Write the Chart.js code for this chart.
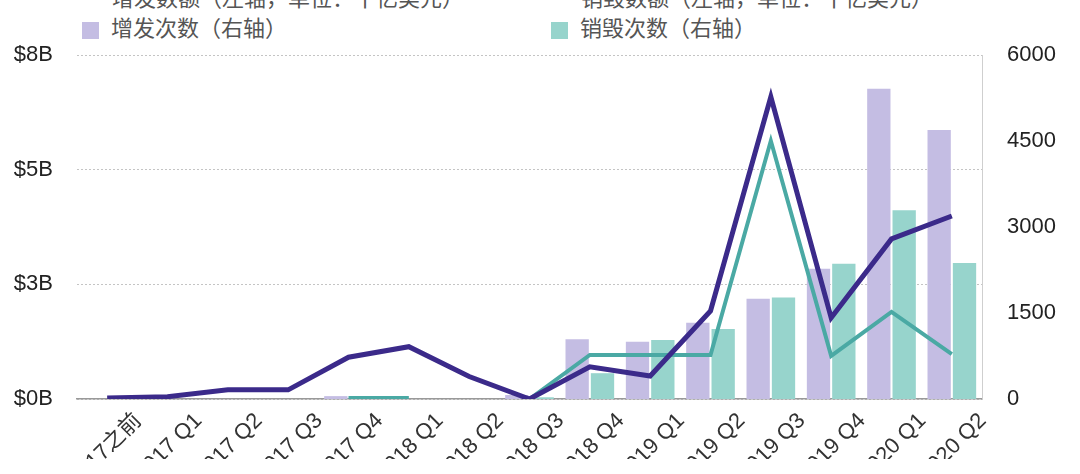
<!DOCTYPE html>
<html>
<head>
<meta charset="utf-8">
<script src="https://cdn.jsdelivr.net/npm/chart.js@4"></script>
<style>
  html, body { margin: 0; padding: 0; background: #fff; overflow: hidden; }
  body { width: 1080px; height: 474px; position: relative; }
  #wrap { position: absolute; left: 0; top: 0; width: 1080px; height: 520px; }
  #legend { position: absolute; left: 0; top: 0; width: 1080px; height: 60px; }
  .legend-item {
    position: absolute; height: 30px; line-height: 30px; white-space: nowrap;
    font: 22px "Noto Sans CJK SC", sans-serif; color: #555;
  }
  .legend-item i { display: inline-block; vertical-align: middle; margin-right: 12px; position: relative; }
</style>
</head>
<body>
<div id="legend"></div>
<div id="wrap"><canvas id="chart"></canvas></div>
<script>
const quarters = [
  "2017之前", "2017 Q1", "2017 Q2", "2017 Q3", "2017 Q4",
  "2018 Q1", "2018 Q2", "2018 Q3", "2018 Q4",
  "2019 Q1", "2019 Q2", "2019 Q3", "2019 Q4",
  "2020 Q1", "2020 Q2",
];

// amounts in billions of USD (left axis)
const issueAmount = [0.02, 0.05, 0.2, 0.2, 0.91, 1.14, 0.49, 0, 0.7, 0.5, 1.92, 6.59, 1.77, 3.49, 3.99];
const burnAmount = [null, null, null, null, 0.02, 0.02, null, 0, 0.96, 0.96, 0.96, 5.63, 0.94, 1.9, 0.98];

// number of events (right axis)
const issueCount = [0, 0, 0, 0, 50, 0, 0, 70, 1040, 1000, 1330, 1750, 2270, 5410, 4690];
const burnCount = [0, 0, 0, 0, 50, 0, 0, 30, 450, 1030, 1220, 1770, 2360, 3290, 2370];

const leftTicks = { min: 0, max: 7.5, step: 2.5 };
const rightTicks = { min: 0, max: 6000, step: 1500 };

const tickFont = { family: '"Liberation Sans", "Noto Sans CJK SC", sans-serif', size: 22 };

const chart = new Chart(document.getElementById("chart").getContext("2d"), {
  data: {
    labels: quarters,
    datasets: [
      {
        type: "line",
        label: "增发数额（左轴，单位：十亿美元）",
        data: issueAmount,
        yAxisID: "y",
        borderColor: "#3b2a8a",
        borderWidth: 5,
        tension: 0,
        pointRadius: 0,
        spanGaps: false,
        order: 0,
      },
      {
        type: "line",
        label: "销毁数额（左轴，单位：十亿美元）",
        data: burnAmount,
        yAxisID: "y",
        borderColor: "#4aa9a4",
        borderWidth: 4,
        tension: 0,
        pointRadius: 0,
        spanGaps: false,
        order: 1,
      },
      {
        type: "bar",
        label: "增发次数（右轴）",
        data: issueCount,
        yAxisID: "y1",
        backgroundColor: "#c4bde3",
        categoryPercentage: 0.84,
        barPercentage: 0.92,
        order: 2,
      },
      {
        type: "bar",
        label: "销毁次数（右轴）",
        data: burnCount,
        yAxisID: "y1",
        backgroundColor: "#97d4cc",
        categoryPercentage: 0.84,
        barPercentage: 0.92,
        order: 3,
      },
    ],
  },
  options: {
    responsive: true,
    maintainAspectRatio: false,
    animation: false,
    layout: { padding: { top: 55, bottom: 61, left: 0, right: 0 } },
    plugins: { legend: { display: false }, tooltip: { enabled: false } },
    scales: {
      x: {
        grid: { display: false, drawTicks: false },
        border: { display: true, color: "#999", width: 1.5 },
        ticks: {
          autoSkip: false,
          maxRotation: 45,
          minRotation: 45,
          labelOffset: 31,
          padding: 9,
          color: "#333",
          font: tickFont,
        },
        afterFit: (s) => { s.height = 60; },
      },
      y: {
        position: "left",
        min: leftTicks.min,
        max: leftTicks.max,
        grid: { color: "#c4c4c4", drawTicks: false },
        border: { display: false, dash: [2, 2] },
        ticks: {
          stepSize: leftTicks.step,
          padding: 24,
          color: "#222",
          font: tickFont,
          callback: (v) => "$" + Math.round(v) + "B",
        },
        afterFit: (s) => { s.width = 77; },
      },
      y1: {
        position: "right",
        min: rightTicks.min,
        max: rightTicks.max,
        grid: { display: false, drawTicks: false },
        border: { display: true, color: "#cfcfcf", width: 1 },
        ticks: {
          stepSize: rightTicks.step,
          padding: 25,
          color: "#222",
          font: tickFont,
          callback: (v) => String(v),
        },
        afterFit: (s) => { s.width = 98; },
      },
    },
  },
});

// two-column legend, line series on the first row, bars on the second
const legendCols = [82, 551];
const legendRows = [-20, 10];
const legendBox = document.getElementById("legend");
chart.data.datasets.forEach((ds, i) => {
  const item = document.createElement("div");
  item.className = "legend-item";
  item.style.left = legendCols[i % 2] + "px";
  item.style.top = legendRows[Math.floor(i / 2)] + "px";
  const mark = document.createElement("i");
  if (ds.type === "bar") {
    mark.style.width = "17px";
    mark.style.height = "17px";
    mark.style.background = ds.backgroundColor;
  } else {
    mark.style.width = "18px";
    mark.style.height = "4px";
    mark.style.top = "-7px";
    mark.style.background = ds.borderColor;
  }
  item.appendChild(mark);
  item.appendChild(document.createTextNode(ds.label));
  legendBox.appendChild(item);
});
</script>
</body>
</html>
